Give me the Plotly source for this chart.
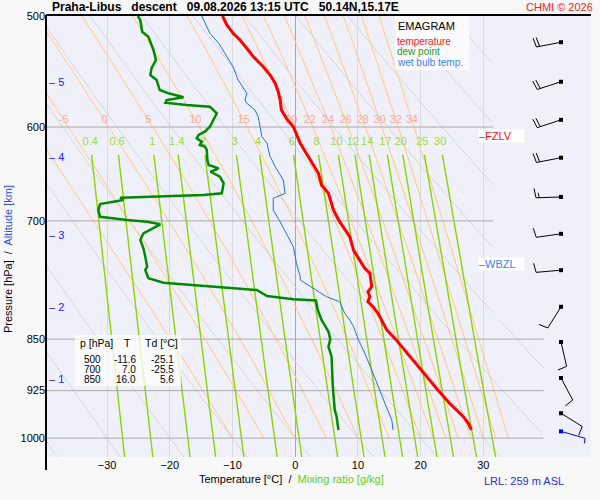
import math
import numpy as np
import plotly.graph_objects as go

# ---- sounding ----
T_P = [500, 507.4, 514.4, 520.1, 528.7, 534.5, 543.4, 550.9, 558.4, 566.2, 574.0, 583.5, 591.5, 599.7,
       616.2, 633.4, 647.4, 659.9, 669.0, 687.6, 700.0, 718.4, 734.3, 744.4, 756.7, 762.9, 779.8, 786.3,
       792.8, 799.3, 805.9, 814.7, 837.3, 850.0, 874.8, 898.9, 921.3, 944.4, 965.4, 975.9, 986.7]
T_C = [-11.6, -10.9, -9.9, -8.8, -7.5, -6.7, -5.1, -4.0, -3.2, -2.7, -2.4, -2.2, -1.4, -0.3,
       0.8, 2.4, 3.7, 4.2, 5.3, 6.1, 7.0, 8.7, 9.3, 10.1, 11.1, 11.9, 12.2, 11.6,
       11.9, 11.6, 12.4, 13.2, 14.6, 16.0, 18.3, 20.4, 22.5, 24.6, 26.8, 27.6, 28.1]

TD_P = [500, 503.3, 513.1, 517.3, 528.7, 537.5, 544.8, 550.9, 555.4, 564.6, 567.7, 571.4, 574.0, 576.5,
        578.7, 580.3, 586.6, 593.1, 599.7, 604.6, 607.9, 611.2, 614.6, 617.9, 619.6, 623.0, 633.4, 638.6,
        642.1, 645.7, 651.0, 658.1, 669.0, 670.8, 672.0, 673.8, 676.4, 680.9, 687.6, 695.3, 699.0, 701.0,
        703.9, 708.5, 714.4, 722.3, 732.2, 742.4, 754.7, 758.8, 769.2, 774.7, 777.7, 781.1, 784.1, 791.9,
        796.2, 797.7, 810.3, 823.7, 828.2, 839.7, 850.0, 860.6, 874.8, 918.9, 954.8, 965.4, 986.7]
TD_C = [-25.1, -24.7, -24.4, -23.4, -22.6, -22.2, -22.9, -23.1, -22.1, -21.6, -20.2, -17.8, -20.5, -20.7,
        -17.3, -13.6, -12.5, -13.0, -13.6, -14.4, -15.4, -15.7, -14.9, -15.2, -14.4, -14.1, -14.0, -13.8,
        -12.2, -13.5, -12.0, -11.4, -11.7, -14.6, -21.5, -27.9, -27.4, -31.1, -31.4, -31.1, -26.8, -23.6,
        -21.5, -22.6, -24.2, -24.7, -24.2, -23.9, -23.6, -23.9, -23.4, -21.0, -16.2, -11.4, -6.1, -4.5,
        -0.3, 3.3, 3.6, 4.2, 4.5, 5.3, 5.6, 5.3, 5.8, 6.0, 6.3, 6.6, 6.9]

TW_P = [500, 506.0, 514.4, 522.9, 531.6, 543.4, 555.4, 567.7, 574.0, 577.1, 583.5, 589.9, 599.7, 609.6,
        616.2, 629.9, 633.4, 640.4, 654.5, 669.0, 674.5, 687.6, 701.0, 714.4, 730.3, 750.5, 767.2, 771.3,
        781.9, 792.8, 799.3, 814.7, 823.7, 832.8, 851.2, 870.0, 894.1, 918.9, 944.4, 970.6, 986.7]
TW_C = [-14.9, -14.4, -13.6, -12.2, -11.2, -9.9, -9.1, -7.7, -8.0, -7.7, -6.4, -5.9, -5.6, -5.3,
        -4.5, -4.0, -3.7, -3.2, -1.9, -1.6, -3.5, -3.5, -2.4, -1.4, -0.3, 0.2, 0.8, 0.8,
        2.9, 5.0, 7.1, 7.9, 8.7, 9.3, 10.1, 11.1, 12.2, 13.2, 14.3, 15.4, 15.6]

# winds at 0.5 km steps (last one = surface)
WIND_P = [522, 557, 593, 631, 673, 715, 759, 806, 854, 906, 960, 989]
WIND_DIR = [259, 252, 252, 259, 268, 262, 265, 212, 167, 152, 122, 106]
WIND_KT = [20, 20, 20, 20, 15, 10, 10, 10, 10, 10, 10, 5]

ALT_KM = [1, 2, 3, 4, 5]
ALT_P = [907.9, 805.9, 716.4, 630.6, 557.5]

TABLE_P = [500, 700, 850]
TABLE_T = [-11.6, 7.0, 16.0]
TABLE_TD = [-25.1, -25.5, 5.6]

FZLV_P = 609
WBZL_P = 751

P_TICKS = [500, 600, 700, 850, 925, 1000]
T_TICKS = [-30, -20, -10, 0, 10, 20, 30]
MIX_G = [0.4, 0.6, 1, 1.4, 2, 3, 4, 6, 8, 10, 12, 14, 17, 20, 25, 30]
THETA_W = [-10, -5, 0, 5, 10, 15, 20, 22, 24, 26, 28, 30, 32, 34]
THETA = [-40, -30, -20, -10, 0, 10, 20, 30, 40, 50, 60, 70, 80, 90, 100]

# ---- geometry ----
W, H = 600, 500
ML, MR, MT, MB = 46, 9, 16, 43
X_RANGE = [-39.73, 47.16]
P_TOP, P_BOT = 500.0, 1031.5
PX_DEG = (W - ML - MR) / (X_RANGE[1] - X_RANGE[0])
PX_LN = (H - MT - MB) / math.log(P_BOT / P_TOP)
FONT = "Liberation Sans, Arial, sans-serif"


def px_x(px):
    return X_RANGE[0] + (px - ML) / PX_DEG


def paper_x(px):
    return (px - ML) / (W - ML - MR)


def paper_y(py):
    return (H - MB - py) / (H - MT - MB)


def clip_right(T, p):
    # reference lines stop short of the wind column
    tmax = np.where(p < 822, 31.6, 39.6)
    T = np.array(T, dtype=float)
    return np.where(T > tmax, np.nan, T)


def dewpoint(p, w):
    e = w * p / (622.0 + w)
    a = np.log(e / 6.112)
    return 243.5 * a / (17.67 - a)


def dTdp(T, p):
    es = 6.112 * np.exp(17.67 * (T - 273.15) / (T - 29.65))
    rs = 0.622 * es / (p - es)
    num = 287.04 * T + 2.501e6 * rs
    den = 1005.7 + 2.501e6 ** 2 * rs * 0.622 / (287.04 * T * T)
    return num / den / p


def moist_line(tw):
    ps = np.linspace(1000, 500, 501)
    Ts = [tw + 273.15]
    for i in range(len(ps) - 1):
        p, h = ps[i], ps[i + 1] - ps[i]
        T = Ts[-1]
        k1 = dTdp(T, p)
        k2 = dTdp(T + h * k1 / 2, p + h / 2)
        k3 = dTdp(T + h * k2 / 2, p + h / 2)
        k4 = dTdp(T + h * k3, p + h)
        Ts.append(T + h * (k1 + 2 * k2 + 2 * k3 + k4) / 6)
    return ps, np.array(Ts) - 273.15


fig = go.Figure()

# dry adiabats
pp = np.geomspace(P_TOP, P_BOT, 200)
for th in THETA:
    T = (th + 273.15) * (pp / 1000.0) ** 0.2857 - 273.15
    fig.add_trace(go.Scatter(x=clip_right(T, pp), y=pp, mode='lines', hoverinfo='skip',
                             line=dict(color='#d6d6d6', width=1), showlegend=False))

# moist adiabats
lab_x, lab_t = [], []
for tw in THETA_W:
    ps, T = moist_line(tw)
    fig.add_trace(go.Scatter(x=clip_right(T, ps), y=ps, mode='lines', hoverinfo='skip',
                             line=dict(color='#ffc97c', width=1), showlegend=False))
    tl = np.interp(593, ps[::-1], T[::-1])
    if tl > X_RANGE[0] + 2:  # labels left of the frame are not drawn
        lab_x.append(tl)
        lab_t.append(str(tw))

# mixing ratio lines
pm = np.geomspace(628, P_BOT, 100)
for w in MIX_G:
    fig.add_trace(go.Scatter(x=clip_right(dewpoint(pm, w), pm), y=pm, mode='lines', hoverinfo='skip',
                             line=dict(color='#8ad400', width=1.4), showlegend=False))

# horizontal grid
for p in P_TICKS[1:]:
    tmax = 31.6 if p < 822 else 39.6
    fig.add_trace(go.Scatter(x=[X_RANGE[0], tmax], y=[p, p], mode='lines', hoverinfo='skip',
                             line=dict(color='#a9a9a9', width=1), showlegend=False))

# line labels
fig.add_trace(go.Scatter(x=lab_x, y=[593] * len(lab_x), text=lab_t, mode='text', hoverinfo='skip',
                         textfont=dict(family=FONT, size=11, color='#f6ac98'), showlegend=False))
fig.add_trace(go.Scatter(x=[dewpoint(615, w) for w in MIX_G], y=[615] * len(MIX_G),
                         text=[f'{w:g}' for w in MIX_G], mode='text', hoverinfo='skip',
                         textfont=dict(family=FONT, size=11, color='#9ad940'), showlegend=False))

# profiles
fig.add_trace(go.Scatter(x=TW_C, y=TW_P, mode='lines', line=dict(color='#1f6fe6', width=1), showlegend=False))
fig.add_trace(go.Scatter(x=TD_C, y=TD_P, mode='lines', line=dict(color='#008a00', width=2.5), showlegend=False))
fig.add_trace(go.Scatter(x=T_C, y=T_P, mode='lines', line=dict(color='#ff0000', width=3), showlegend=False))

# wind barbs
BARB_X = 561
STAFF, FEATHER, GAP, TILT = 25, 9.5, 3.2, math.radians(10)
for i, (p0, d, v) in enumerate(zip(WIND_P, WIND_DIR, WIND_KT)):
    colr = '#0000ee' if i == len(WIND_P) - 1 else 'black'
    sx, sy = math.sin(math.radians(d)), -math.cos(math.radians(d))
    fx = -sy * math.cos(TILT) + sx * math.sin(TILT)
    fy = sx * math.cos(TILT) + sy * math.sin(TILT)
    segs = [((0, 0), (STAFF * sx, STAFF * sy))]
    n_full, half = v // 10, (v % 10) >= 5
    for k in range(n_full):
        bx, by = (STAFF - k * GAP) * sx, (STAFF - k * GAP) * sy
        segs.append(((bx, by), (bx + FEATHER * fx, by + FEATHER * fy)))
    if half:
        k = n_full
        bx, by = (STAFF - k * GAP) * sx, (STAFF - k * GAP) * sy
        segs.append(((bx, by), (bx + 5 * fx, by + 5 * fy)))
    T0 = px_x(BARB_X)
    xs, ys = [], []
    for (a, b) in segs:
        for (dx, dy) in (a, b):
            xs.append(T0 + dx / PX_DEG)
            ys.append(p0 * math.exp(dy / PX_LN))
        xs.append(None)
        ys.append(None)
    fig.add_trace(go.Scatter(x=xs, y=ys, mode='lines', line=dict(color=colr, width=1),
                             hoverinfo='skip', showlegend=False, cliponaxis=False))
    fig.add_trace(go.Scatter(x=[T0], y=[p0], mode='markers', hoverinfo='skip', showlegend=False,
                             marker=dict(symbol='square', size=4, color=colr)))

ann = []


def text(px, py, s, color='black', size=11, anchor='left', **kw):
    ann.append(dict(x=paper_x(px), y=paper_y(py), xref='paper', yref='paper', text=s, showarrow=False,
                    xanchor=anchor, yanchor='middle', font=dict(family=FONT, size=size, color=color), **kw))


text(50, 7, '<b>Praha-Libus   descent   09.08.2026 13:15 UTC   50.14N,15.17E</b>', size=12)
text(595, 7, 'CHMI © 2026', color='#ff2020', anchor='right')
text(396, 26, 'EMAGRAM')
text(396, 41.5, 'temperature', color='#ff1a1a', size=10, borderpad=0)
text(396, 52, 'dew point', color='#229922', size=10, borderpad=0)
text(396, 62.5, 'wet bulb temp.', color='#3584f0', size=10, borderpad=0)

text(78, 343, 'p [hPa]', size=10.5)
text(127, 343, 'T', anchor='center', size=10.5)
text(143, 343, 'Td [°C]', size=10.5)
for j, (p, t, td) in enumerate(zip(TABLE_P, TABLE_T, TABLE_TD)):
    yy = 359 + 10 * j
    text(102, yy, str(p), anchor='right', size=10, borderpad=0)
    text(137, yy, f'{t:.1f}', anchor='right', size=10, borderpad=0)
    text(175, yy, f'{td:.1f}', anchor='right', size=10, borderpad=0)

for km, p in zip(ALT_KM, ALT_P):
    ann.append(dict(x=paper_x(47), xref='paper', y=math.log10(p), yref='y', text=f'– {km}', showarrow=False,
                    xanchor='left', yanchor='middle', font=dict(family=FONT, size=11, color='#2222ee')))

for p, s, c in ((FZLV_P, '–FZLV', '#ff1010'), (WBZL_P, '–WBZL', '#3a7ff0')):
    ann.append(dict(x=paper_x(478), xref='paper', y=math.log10(p), yref='y', text=s, showarrow=False,
                    xanchor='left', yanchor='middle', width=45, align='left', bgcolor='white', borderpad=0,
                    font=dict(family=FONT, size=11, color=c)))

ann.append(dict(x=paper_x(8), y=paper_y(259), xref='paper', yref='paper', textangle=-90, showarrow=False,
                xanchor='center', yanchor='middle',
                text="Pressure [hPa]  /  <span style='color:#2a4ff0'>Altitude [km]</span>",
                font=dict(family=FONT, size=11, color='black')))
text(197, 479, "Temperature [°C]  /  <span style='color:#5ccc22'>Mixing ratio [g/kg]</span>")
text(482, 481, 'LRL: 259 m ASL', color='#2233dd')

shapes = [
    dict(type='rect', xref='paper', yref='paper', x0=paper_x(395), x1=paper_x(469),
         y0=paper_y(70), y1=paper_y(16), fillcolor='rgba(255,255,255,0.75)', line=dict(width=0), layer='above'),
    dict(type='rect', xref='paper', yref='paper', x0=paper_x(75), x1=paper_x(181),
         y0=paper_y(386), y1=paper_y(335), fillcolor='rgba(255,255,255,0.75)', line=dict(width=0), layer='above'),
    dict(type='line', xref='paper', yref='paper', x0=paper_x(46), x1=paper_x(591),
         y0=paper_y(15), y1=paper_y(15), line=dict(color='black', width=2)),
    dict(type='line', xref='paper', yref='paper', x0=paper_x(46), x1=paper_x(46),
         y0=paper_y(15), y1=paper_y(470), line=dict(color='black', width=2)),
]

fig.update_layout(
    width=W, height=H,
    margin=dict(l=ML, r=MR, t=MT, b=MB),
    paper_bgcolor='#f8f8f8', plot_bgcolor='#f0f0fb',
    font=dict(family=FONT, size=11, color='black'),
    annotations=ann, shapes=shapes,
    xaxis=dict(range=X_RANGE, tickmode='array', tickvals=T_TICKS, showgrid=True, gridcolor='#dadada',
               zeroline=True, zerolinecolor='#a6a6a6', zerolinewidth=1, showline=False, ticks=''),
    yaxis=dict(type='log', range=[math.log10(P_BOT), math.log10(P_TOP)], tickmode='array',
               tickvals=P_TICKS, ticktext=[str(p) for p in P_TICKS], showgrid=False, zeroline=False,
               showline=False, ticks=''),
)

# the page body has a default 8px margin; drop it so the chart sits at the window corner
fig.write_html("out.html", config={'displayModeBar': False},
               post_script="document.body.style.margin='0';")
